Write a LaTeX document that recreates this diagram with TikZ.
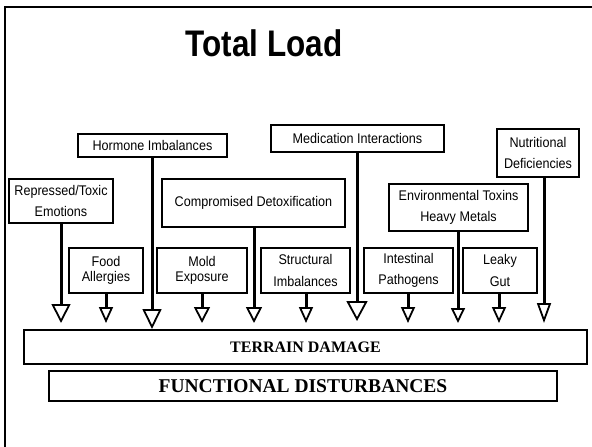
\documentclass[tikz,border=0pt]{standalone}
\usepackage{fontspec}
\setmainfont{Liberation Sans}
\newfontfamily\boxfont[FakeStretch=0.9]{Liberation Sans}
\newfontfamily\titlefont[FakeStretch=0.85]{Liberation Sans}
\newfontfamily\serifb{Liberation Serif}
\usetikzlibrary{arrows.meta}
\begin{document}
\begin{tikzpicture}[x=1pt,y=-1pt,
  box/.style={draw, line width=2pt, inner sep=0pt, align=center,
    font=\boxfont\fontsize{14}{21.5}\selectfont},
  tightbox/.style={box, font=\boxfont\fontsize{14}{14.5}\selectfont},
  conn/.style 2 args={line width=3pt,
    -{Triangle[open,width=#1,length=#2,line width=1.8pt]}},
  bar/.style={draw, inner sep=0pt, font=\serifb\bfseries}
]
\useasboundingbox (0,0) rectangle (592,447);
% outer frame
\draw[line width=2pt] (5,447) -- (5,7) -- (592,7);

% title
\node[anchor=base, inner sep=0pt, font=\titlefont\bfseries\fontsize{37}{37}\selectfont] (title) at (264,56) {Total Load};

% top row boxes
\node[box, minimum width=149, minimum height=23] (hormone) at (152.5,145.5) {Hormone Imbalances};
\node[box, minimum width=173, minimum height=27] (medic) at (357.5,138.5) {Medication Interactions};
\node[box, minimum width=82, minimum height=48] (nutri) at (538,153) {Nutritional\\Deficiencies};
\node[box, minimum width=104, minimum height=44] (repress) at (61,201) {Repressed/Toxic\\Emotions};
\node[box, minimum width=183, minimum height=48] (detox) at (253.5,203) {Compromised Detoxification};
\node[box, minimum width=139, minimum height=47] (env) at (458.5,207.5) {Environmental Toxins\\Heavy Metals};

% bottom row boxes
\node[tightbox, minimum width=74, minimum height=45] (food) at (106,270.5) {Food\\Allergies};
\node[tightbox, minimum width=90, minimum height=45] (mold) at (202,270.5) {Mold\\Exposure};
\node[box, minimum width=89, minimum height=45] (struct) at (305.5,270.5) {Structural\\Imbalances};
\node[box, minimum width=89, minimum height=45] (intest) at (408.5,270.5) {Intestinal\\Pathogens};
\node[box, minimum width=74, minimum height=45] (leaky) at (500,270.5) {Leaky\\Gut};

% result bars
\node[bar, line width=2.5pt, minimum width=563, minimum height=34, font=\serifb\bfseries\fontsize{16}{16}\selectfont] (terrain) at (305.5,347) {TERRAIN DAMAGE};
\node[bar, line width=1.5pt, minimum width=508, minimum height=30, font=\serifb\bfseries\fontsize{19.5}{19.5}\selectfont] (func) at (303,386) {FUNCTIONAL DISTURBANCES};

% arrow end points
\coordinate (tRepress) at (61,323);
\coordinate (tFood) at (106,323);
\coordinate (tHormone) at (152,329);
\coordinate (tMold) at (202,323);
\coordinate (tDetox) at (254,323);
\coordinate (tStruct) at (306,323);
\coordinate (tMedic) at (357,321);
\coordinate (tIntest) at (408,323);
\coordinate (tEnv) at (458,323);
\coordinate (tLeaky) at (499,323);
\coordinate (tNutri) at (544,323);

% connectors
\draw[conn={19pt}{19pt}] (repress.south -| tRepress) -- (tRepress);
\draw[conn={14pt}{16pt}] (food.south -| tFood) -- (tFood);
\draw[conn={19pt}{20pt}] (hormone.south -| tHormone) -- (tHormone);
\draw[conn={16pt}{16pt}] (mold.south -| tMold) -- (tMold);
\draw[conn={16pt}{16pt}] (detox.south -| tDetox) -- (tDetox);
\draw[conn={14pt}{16pt}] (struct.south -| tStruct) -- (tStruct);
\draw[conn={21pt}{20pt}] (medic.south -| tMedic) -- (tMedic);
\draw[conn={14pt}{16pt}] (intest.south -| tIntest) -- (tIntest);
\draw[conn={14pt}{15pt}] (env.south -| tEnv) -- (tEnv);
\draw[conn={14pt}{16pt}] (leaky.south -| tLeaky) -- (tLeaky);
\draw[conn={14pt}{20pt}] (nutri.south -| tNutri) -- (tNutri);
\end{tikzpicture}
\end{document}
